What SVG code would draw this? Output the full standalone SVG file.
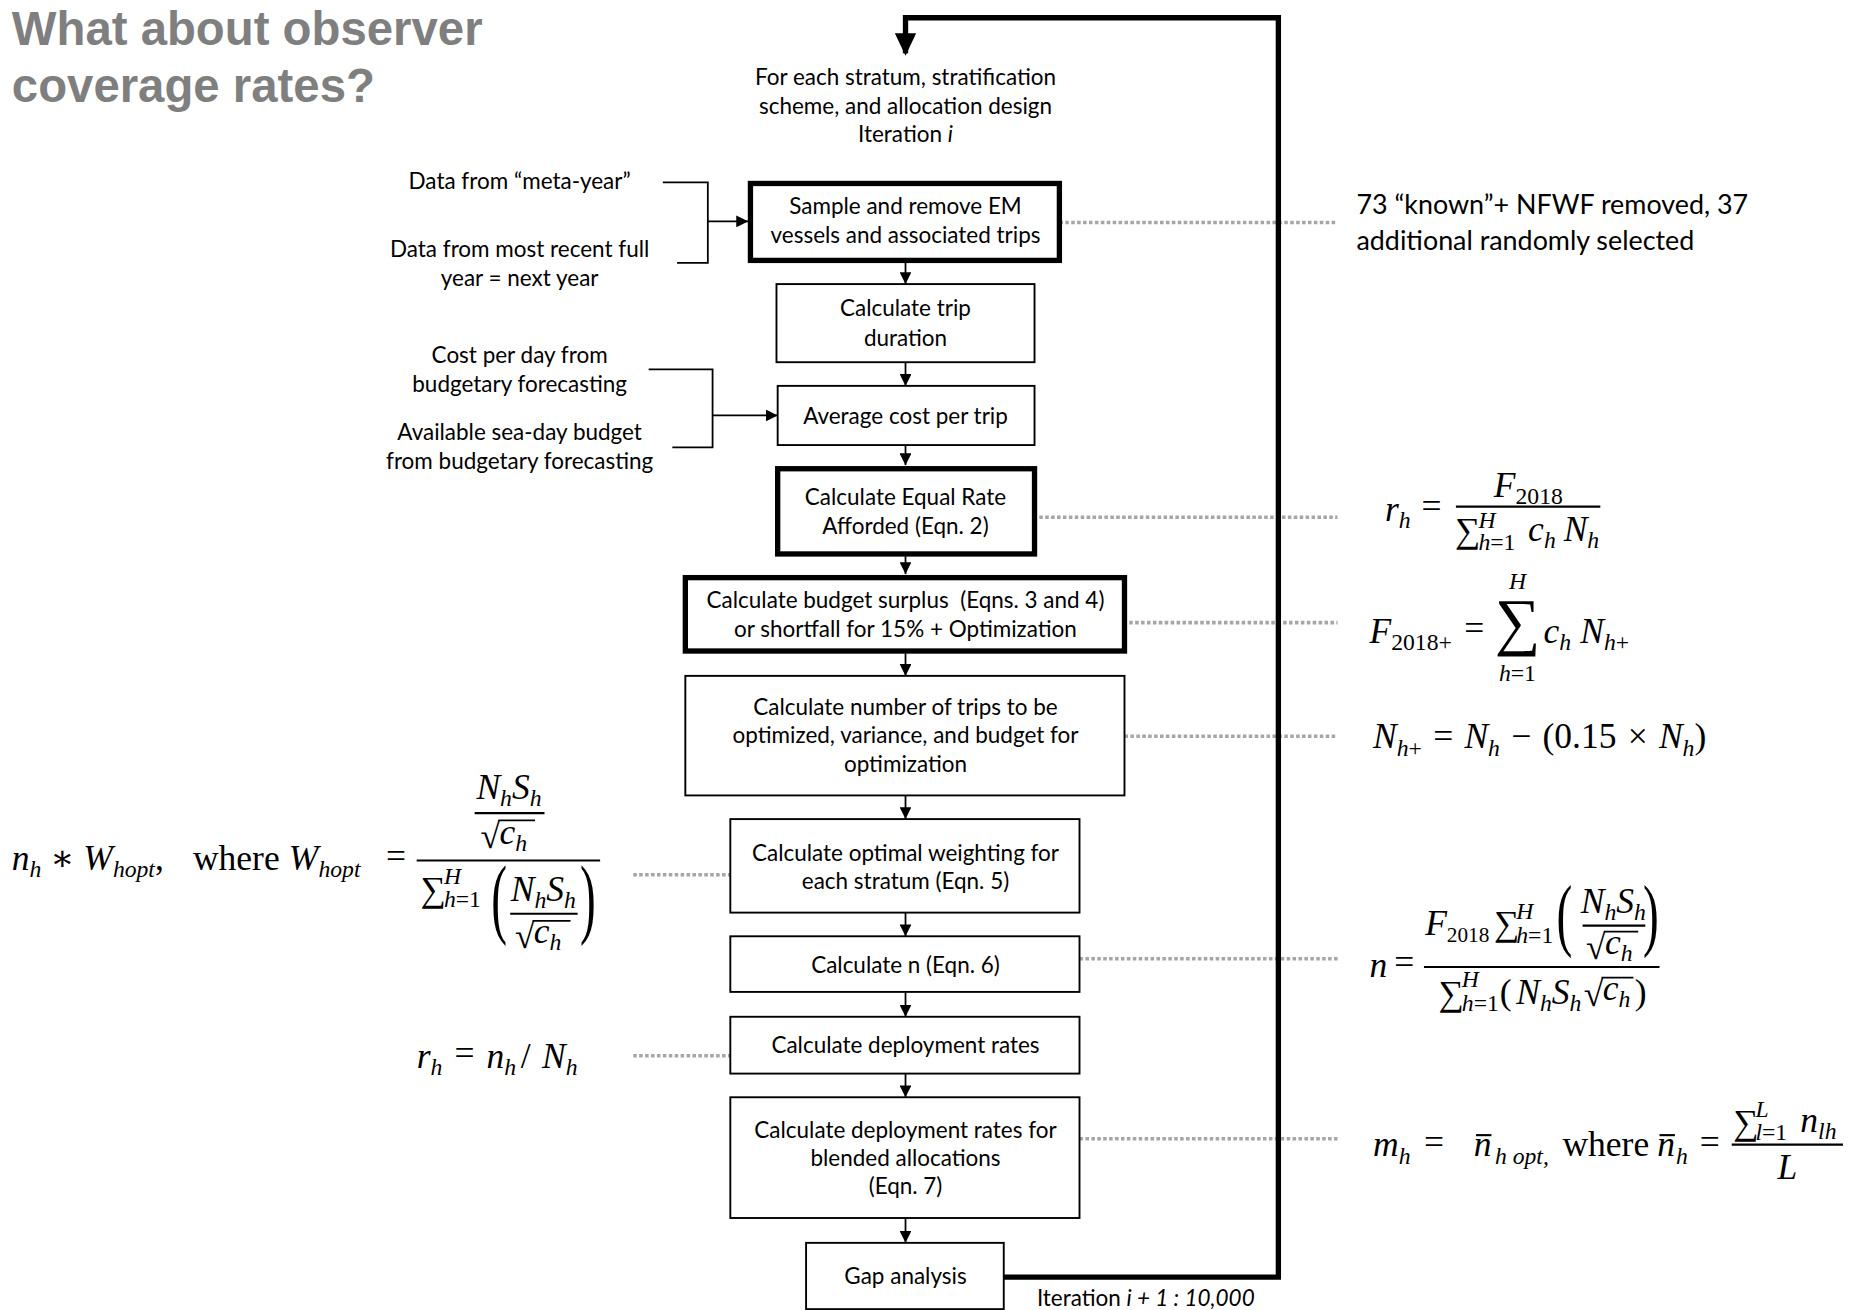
<svg xmlns="http://www.w3.org/2000/svg" width="1856" height="1310" viewBox="0 0 1856 1310">
<style>
.t{font-family:Lato,"Open Sans","Liberation Sans",sans-serif;font-size:19px;fill:#000}
.c{text-anchor:middle}
.title{font-family:"Liberation Sans",Arial,sans-serif;font-weight:bold;font-size:40px;fill:#7f7f7f}
.m{font-family:"Liberation Serif","DejaVu Serif",serif;font-size:30px;fill:#000}
.i{font-style:italic}
.s{font-size:20px}
.box{fill:#fff;stroke:#000;stroke-width:1.6}
.thick{fill:#fff;stroke:#000;stroke-width:4.5}
.ln{fill:none;stroke:#000;stroke-width:1.5}
.dot{fill:none;stroke:#a6a6a6;stroke-width:3;stroke-dasharray:3 2}
.bar{stroke:#000;stroke-width:1.8}
.ov{stroke:#000;stroke-width:1.5}
</style>
<defs>
<marker id="ah" markerUnits="userSpaceOnUse" markerWidth="10" markerHeight="10" refX="10" refY="5" orient="auto">
<path d="M0,0 L10,5 L0,10 Z" fill="#000"/>
</marker>
</defs>
<rect width="1856" height="1310" fill="#fff"/>
<g transform="scale(1.18367)">
<g id="title">
<text class="title" x="10" y="38">What about observer</text>
<text class="title" x="10" y="86">coverage rates?</text>
</g>
<g id="dotted">
<line class="dot" x1="895" y1="188" x2="1130" y2="188"/>
<line class="dot" x1="878" y1="437" x2="1130" y2="437"/>
<line class="dot" x1="954" y1="526" x2="1130" y2="526"/>
<line class="dot" x1="950" y1="622" x2="1130" y2="622"/>
<line class="dot" x1="535" y1="739" x2="617" y2="739"/>
<line class="dot" x1="912" y1="810" x2="1130" y2="810"/>
<line class="dot" x1="535" y1="892" x2="617" y2="892"/>
<line class="dot" x1="912" y1="962" x2="1130" y2="962"/>
</g>
<g id="connectors">
<path d="M765,45 V15 H1080 V1079 H848" fill="none" stroke="#000" stroke-width="4.5"/>
<path d="M756,28 L774,28 L765,47 Z" fill="#000"/>
<line class="ln" x1="765" y1="222" x2="765" y2="240" marker-end="url(#ah)"/>
<line class="ln" x1="765" y1="306" x2="765" y2="326" marker-end="url(#ah)"/>
<line class="ln" x1="765" y1="376" x2="765" y2="393" marker-end="url(#ah)"/>
<line class="ln" x1="765" y1="470" x2="765" y2="485" marker-end="url(#ah)"/>
<line class="ln" x1="765" y1="552" x2="765" y2="571" marker-end="url(#ah)"/>
<line class="ln" x1="765" y1="672" x2="765" y2="692" marker-end="url(#ah)"/>
<line class="ln" x1="765" y1="771" x2="765" y2="791" marker-end="url(#ah)"/>
<line class="ln" x1="765" y1="838" x2="765" y2="859" marker-end="url(#ah)"/>
<line class="ln" x1="765" y1="907" x2="765" y2="927" marker-end="url(#ah)"/>
<line class="ln" x1="765" y1="1029" x2="765" y2="1050" marker-end="url(#ah)"/>
<path class="ln" d="M560,154 H598 V222 H572"/>
<line class="ln" x1="598" y1="187" x2="632" y2="187" marker-end="url(#ah)"/>
<path class="ln" d="M548,312 H602 V378 H568"/>
<line class="ln" x1="602" y1="351" x2="657" y2="351" marker-end="url(#ah)"/>
</g>
<g id="start">
<text class="t c" x="765" y="72">For each stratum, stratification</text>
<text class="t c" x="765" y="96">scheme, and allocation design</text>
<text class="t c" x="765" y="120">Iteration <tspan font-style="italic">i</tspan></text>
</g>
<g id="in-meta"><text class="t c" x="439" y="160">Data from “meta-year”</text></g>
<g id="in-recent"><text class="t c" x="439" y="217">Data from most recent full</text><text class="t c" x="439" y="242">year = next year</text></g>
<g id="in-cost"><text class="t c" x="439" y="307">Cost per day from</text><text class="t c" x="439" y="331">budgetary forecasting</text></g>
<g id="in-budget"><text class="t c" x="439" y="372">Available sea-day budget</text><text class="t c" x="439" y="396">from budgetary forecasting</text></g>
<g id="n1"><rect class="thick" x="634" y="155" width="261" height="65"/><text class="t c" x="765" y="181">Sample and remove EM</text><text class="t c" x="765" y="205">vessels and associated trips</text></g>
<g id="n2"><rect class="box" x="656" y="240" width="218" height="66"/><text class="t c" x="765" y="267">Calculate trip</text><text class="t c" x="765" y="292">duration</text></g>
<g id="n3"><rect class="box" x="657" y="326" width="217" height="50"/><text class="t c" x="765" y="358">Average cost per trip</text></g>
<g id="n4"><rect class="thick" x="657" y="396" width="217" height="72"/><text class="t c" x="765" y="427">Calculate Equal Rate</text><text class="t c" x="765" y="451">Afforded (Eqn. 2)</text></g>
<g id="n5"><rect class="thick" x="579" y="488" width="371" height="62"/><text class="t c" x="765" y="514" xml:space="preserve">Calculate budget surplus  (Eqns. 3 and 4)</text><text class="t c" x="765" y="538">or shortfall for 15% + Optimization</text></g>
<g id="n6"><rect class="box" x="579" y="571" width="371" height="101"/><text class="t c" x="765" y="604">Calculate number of trips to be</text><text class="t c" x="765" y="628">optimized, variance, and budget for</text><text class="t c" x="765" y="652">optimization</text></g>
<g id="n7"><rect class="box" x="617" y="692" width="295" height="79"/><text class="t c" x="765" y="727">Calculate optimal weighting for</text><text class="t c" x="765" y="751">each stratum (Eqn. 5)</text></g>
<g id="n8"><rect class="box" x="617" y="791" width="295" height="47"/><text class="t c" x="765" y="822">Calculate n (Eqn. 6)</text></g>
<g id="n9"><rect class="box" x="617" y="859" width="295" height="48"/><text class="t c" x="765" y="890">Calculate deployment rates</text></g>
<g id="n10"><rect class="box" x="617" y="927" width="295" height="102"/><text class="t c" x="765" y="961">Calculate deployment rates for</text><text class="t c" x="765" y="985">blended allocations</text><text class="t c" x="765" y="1009">(Eqn. 7)</text></g>
<g id="n11"><rect class="box" x="681" y="1050" width="167" height="56"/><text class="t c" x="765" y="1085">Gap analysis</text></g>
<g id="iter-label"><text class="t" x="876" y="1103">Iteration <tspan font-style="italic">i + 1 : 10,000</tspan></text></g>
<g id="note-em"><text class="t" style="font-size:22.7px" x="1146" y="181">73 “known”+ NFWF removed, 37</text><text class="t" style="font-size:22.7px" x="1146" y="211">additional randomly selected</text></g>
<g id="eq2">
<text class="m" x="1170" y="440"><tspan class="i">r</tspan><tspan class="s i" dy="6">h</tspan></text>
<text class="m" x="1201" y="438">=</text>
<line class="bar" x1="1230" y1="428" x2="1352" y2="428"/>
<text class="m" x="1262" y="420"><tspan class="i">F</tspan><tspan class="s" dy="6">2018</tspan></text>
<text class="m" x="1229" y="458">∑</text>
<text class="m s i" x="1249" y="446">H</text>
<text class="m s" x="1249" y="465"><tspan class="i">h</tspan>=1</text>
<text class="m" x="1291" y="457"><tspan class="i">c</tspan><tspan class="s i" dy="6">h</tspan></text>
<text class="m" x="1321" y="457"><tspan class="i">N</tspan><tspan class="s i" dy="6">h</tspan></text>
</g>
<g id="eq3">
<text class="m" x="1157" y="543"><tspan class="i">F</tspan><tspan class="s" dy="6">2018+</tspan></text>
<text class="m" x="1237" y="541">=</text>
<text class="m c" x="1282" y="543" style="font-size:54px">∑</text>
<text class="m s i c" x="1282" y="498">H</text>
<text class="m s c" x="1282" y="575"><tspan class="i">h</tspan>=1</text>
<text class="m" x="1304" y="543"><tspan class="i">c</tspan><tspan class="s i" dy="6">h</tspan></text>
<text class="m" x="1335" y="543"><tspan class="i">N</tspan><tspan class="s i" dy="6">h</tspan><tspan class="s">+</tspan></text>
</g>
<g id="eq4">
<text class="m" x="1160" y="632" word-spacing="2"><tspan class="i">N</tspan><tspan class="s" dy="7"><tspan class="i">h</tspan>+</tspan><tspan dy="-7"> = </tspan><tspan class="i">N</tspan><tspan class="s i" dy="7">h</tspan><tspan dy="-7"> − (0.15 × </tspan><tspan class="i">N</tspan><tspan class="s i" dy="7">h</tspan><tspan dy="-7">)</tspan></text>
</g>
<g id="eq5">
<text class="m" x="10" y="735"><tspan class="i">n</tspan><tspan class="s i" dy="6">h</tspan><tspan dy="-6"> ∗ </tspan><tspan class="i">W</tspan><tspan class="s i" dy="6">hopt</tspan><tspan dy="-6">,</tspan></text>
<text class="m" x="163" y="735">where</text>
<text class="m" x="244" y="735"><tspan class="i">W</tspan><tspan class="s i" dy="6">hopt</tspan></text>
<text class="m" x="326" y="733">=</text>
<line class="bar" x1="352" y1="727" x2="507" y2="727"/>
<text class="m c" x="430" y="675"><tspan class="i">N</tspan><tspan class="s i" dy="6">h</tspan><tspan class="i" dy="-6">S</tspan><tspan class="s i" dy="6">h</tspan></text>
<line class="bar" x1="401" y1="687" x2="460" y2="687"/>
<text class="m" x="406" y="716">√</text>
<line class="ov" x1="421" y1="693" x2="452" y2="693"/>
<text class="m" x="422" y="713"><tspan class="i">c</tspan><tspan class="s i" dy="6">h</tspan></text>
<text class="m" x="355" y="761">∑</text>
<text class="m s i" x="375" y="747">H</text>
<text class="m s" x="375" y="766"><tspan class="i">h</tspan>=1</text>
<text class="m" transform="translate(415,783) scale(1,1.9)" style="font-size:40px">(</text>
<text class="m" transform="translate(490,783) scale(1,1.9)" style="font-size:40px">)</text>
<text class="m c" x="459" y="761"><tspan class="i">N</tspan><tspan class="s i" dy="6">h</tspan><tspan class="i" dy="-6">S</tspan><tspan class="s i" dy="6">h</tspan></text>
<line class="bar" x1="431" y1="772" x2="488" y2="772"/>
<text class="m" x="435" y="801">√</text>
<line class="ov" x1="450" y1="778" x2="482" y2="778"/>
<text class="m" x="451" y="797"><tspan class="i">c</tspan><tspan class="s i" dy="6">h</tspan></text>
</g>
<g id="eq6">
<text class="m i" x="1157" y="825">n</text>
<text class="m" x="1178" y="823">=</text>
<line class="bar" x1="1203" y1="817" x2="1402" y2="817"/>
<text class="m" x="1204" y="790"><tspan class="i">F</tspan><tspan style="font-size:18px" dy="6">2018</tspan></text>
<text class="m" x="1262" y="790">∑</text>
<text class="m s i" x="1281" y="776">H</text>
<text class="m s" x="1281" y="797"><tspan class="i">h</tspan>=1</text>
<text class="m" transform="translate(1315,795) scale(1,1.7)" style="font-size:40px">(</text>
<text class="m" transform="translate(1388,795) scale(1,1.7)" style="font-size:40px">)</text>
<text class="m c" x="1363" y="771"><tspan class="i">N</tspan><tspan class="s i" dy="6">h</tspan><tspan class="i" dy="-6">S</tspan><tspan class="s i" dy="6">h</tspan></text>
<line class="bar" x1="1337" y1="782" x2="1390" y2="782"/>
<text class="m" x="1340" y="810">√</text>
<line class="ov" x1="1355" y1="787" x2="1384" y2="787"/>
<text class="m" x="1356" y="806"><tspan class="i">c</tspan><tspan class="s i" dy="6">h</tspan></text>
<text class="m" x="1215" y="849">∑</text>
<text class="m s i" x="1235" y="834">H</text>
<text class="m s" x="1235" y="854"><tspan class="i">h</tspan>=1</text>
<text class="m" x="1267" y="848">(</text>
<text class="m" x="1281" y="848"><tspan class="i">N</tspan><tspan class="s i" dy="6">h</tspan><tspan class="i" dy="-6">S</tspan><tspan class="s i" dy="6">h</tspan></text>
<text class="m" x="1338" y="850">√</text>
<line class="ov" x1="1353" y1="826" x2="1380" y2="826"/>
<text class="m" x="1354" y="845"><tspan class="i">c</tspan><tspan class="s i" dy="6">h</tspan></text>
<text class="m" x="1381" y="848">)</text>
</g>
<g id="eq7">
<text class="m" x="352" y="902"><tspan class="i">r</tspan><tspan class="s i" dy="6">h</tspan></text>
<text class="m" x="384" y="900">=</text>
<text class="m" x="411" y="902"><tspan class="i">n</tspan><tspan class="s i" dy="6">h</tspan></text>
<text class="m" x="440" y="902">/</text>
<text class="m" x="458" y="902"><tspan class="i">N</tspan><tspan class="s i" dy="6">h</tspan></text>
</g>
<g id="eq8">
<text class="m" x="1160" y="977"><tspan class="i">m</tspan><tspan class="s i" dy="6">h</tspan></text>
<text class="m" x="1203" y="975">=</text>
<text class="m i" x="1245" y="977">n</text>
<line class="bar" x1="1247" y1="959" x2="1260" y2="959"/>
<text class="m s i" x="1263" y="983">h opt,</text>
<text class="m" x="1320" y="977">where</text>
<text class="m i" x="1400" y="977">n</text>
<line class="bar" x1="1402" y1="959" x2="1415" y2="959"/>
<text class="m s i" x="1416" y="983">h</text>
<text class="m" x="1436" y="975">=</text>
<line class="bar" x1="1463" y1="967" x2="1557" y2="967"/>
<text class="m" x="1464" y="958">∑</text>
<text class="m s i" x="1483" y="944">L</text>
<text class="m s" x="1483" y="963"><tspan class="i">l</tspan>=1</text>
<text class="m" x="1521" y="956"><tspan class="i">n</tspan><tspan class="s i" dy="6">lh</tspan></text>
<text class="m i c" x="1510" y="996">L</text>
</g>
</g>
</svg>
